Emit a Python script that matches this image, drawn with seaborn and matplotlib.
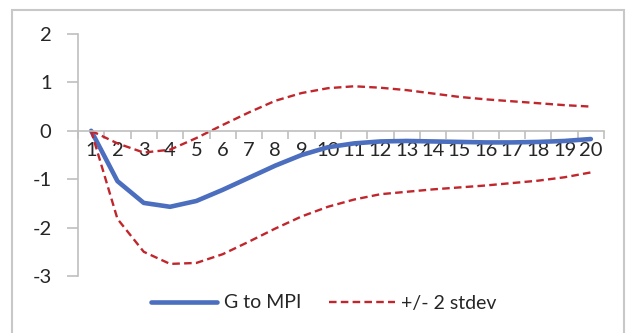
import matplotlib
matplotlib.use("Agg")
import matplotlib.pyplot as plt
import seaborn as sns
import pandas as pd
from matplotlib.patches import Rectangle

periods = list(range(1, 21))
g_to_mpi = [0, -1.04, -1.49, -1.57, -1.45, -1.22, -0.97, -0.72, -0.50, -0.34,
            -0.26, -0.22, -0.21, -0.22, -0.23, -0.24, -0.24, -0.23, -0.21, -0.17]
upper = [0, -0.26, -0.45, -0.39, -0.15, 0.12, 0.38, 0.62, 0.78, 0.88,
         0.92, 0.89, 0.84, 0.77, 0.70, 0.65, 0.61, 0.57, 0.53, 0.50]
lower = [0, -1.82, -2.50, -2.75, -2.73, -2.55, -2.29, -2.02, -1.77, -1.57,
         -1.42, -1.31, -1.26, -1.21, -1.17, -1.13, -1.08, -1.03, -0.96, -0.86]
yticks = [-3, -2, -1, 0, 1, 2]

sns.set_style("white")
plt.rcParams['font.family'] = ['Lato', 'DejaVu Sans']

df = pd.DataFrame({"period": periods, "g": g_to_mpi, "up": upper, "lo": lower})

fig = plt.figure(figsize=(6.26, 3.33), dpi=100)
ax = fig.add_axes([78/626, 1-276/333, (604-78)/626, (276-34)/333])

blue = "#4B6EBE"
red = "#C0262C"
fs = 14.5
sns.lineplot(data=df, x="period", y="g", ax=ax, color=blue, linewidth=3.3,
             label="G to MPI", solid_capstyle="round")
sns.lineplot(data=df, x="period", y="up", ax=ax, color=red, linewidth=1.7,
             linestyle=(0, (3.2, 1.8)), label="+/- 2 stdev")
sns.lineplot(data=df, x="period", y="lo", ax=ax, color=red, linewidth=1.7,
             linestyle=(0, (3.2, 1.8)), label="_nolegend_")

ax.set_xlim(0.5, 20.5)
ax.set_ylim(-3, 2)
ax.set_xlabel("")
ax.set_ylabel("")

gray = "#BFBFBF"
for s in ["top", "right"]:
    ax.spines[s].set_visible(False)
ax.spines["bottom"].set_position(("data", 0))
ax.spines["bottom"].set_color(gray)
ax.spines["left"].set_color(gray)
ax.spines["bottom"].set_linewidth(1.2)
ax.spines["left"].set_linewidth(1.2)

ax.set_yticks(yticks)
ax.set_yticklabels([str(v) for v in yticks])
ax.set_xticks(periods)
ax.set_xticklabels([str(p) for p in periods])
ax.set_xticks([p - 0.5 for p in periods] + [20.5], minor=True)
ax.tick_params(axis="x", which="major", length=0, pad=8, labelsize=fs, colors="#262626")
ax.tick_params(axis="x", which="minor", direction="out", length=6, width=1.2, color=gray, bottom=True)
ax.tick_params(axis="y", which="major", direction="out", length=8, width=1.2, color=gray,
               left=True, pad=11, labelsize=fs, labelcolor="#262626")

leg = ax.legend(loc="center", bbox_to_anchor=(324/626, 1-303/333), bbox_transform=fig.transFigure,
                ncol=2, frameon=False, fontsize=14, handlelength=3.4, handletextpad=0.35,
                columnspacing=1.4)
for t in leg.get_texts():
    t.set_color("#262626")

fig.patches.append(Rectangle((12/626, -0.05), (624-12)/626, 1.05-10/333,
                             transform=fig.transFigure, fill=False,
                             edgecolor="#C8C8C8", linewidth=1.5))

fig.savefig("out.png", dpi=100)
